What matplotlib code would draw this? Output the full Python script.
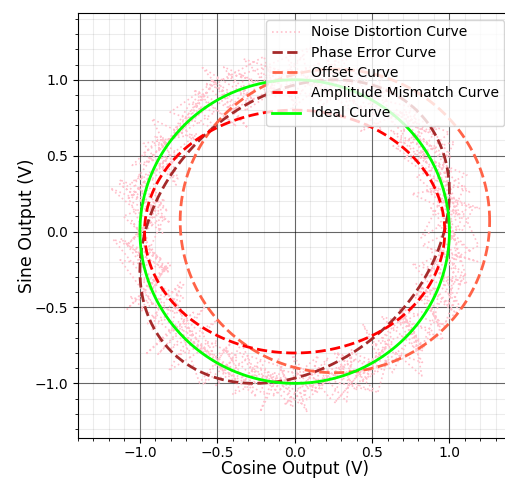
import numpy as np
import matplotlib
matplotlib.use('Agg')
import matplotlib.pyplot as plt
from matplotlib.ticker import AutoMinorLocator

# curve parameters
n_points = 200
amp_x, amp_y = 0.97, 0.80          # amplitude mismatch
offset_x, offset_y = 0.26, 0.07    # offset curve
phase_deg = 15                     # phase error

noise_x = [
    0.05, -0.12, 0.08, 0.15, -0.03, -0.18, 0.11, 0.02, -0.07, 0.21,
    -0.14, 0.06, -0.01, 0.09, -0.22, 0.13, 0.04, -0.09, 0.17, -0.05,
    0.10, -0.16, 0.01, 0.07, -0.11, 0.19, -0.04, 0.12, -0.20, 0.03,
    0.08, -0.06, 0.14, -0.13, 0.00, 0.16, -0.08, 0.05, -0.19, 0.11,
    -0.02, 0.20, -0.10, 0.06, -0.15, 0.09, 0.02, -0.12, 0.18, -0.07,
    0.13, -0.03, 0.07, -0.21, 0.04, 0.15, -0.09, 0.01, 0.10, -0.17,
    0.06, -0.11, 0.22, -0.05, 0.03, -0.14, 0.12, -0.01, 0.08, -0.18,
    0.17, -0.06, 0.02, 0.11, -0.13, 0.05, -0.20, 0.09, 0.14, -0.04,
    -0.10, 0.07, -0.16, 0.19, 0.00, -0.08, 0.13, -0.12, 0.04, 0.10,
    -0.03, 0.16, -0.15, 0.06, -0.07, 0.21, -0.11, 0.01, 0.09, -0.19,
    0.12, -0.02, 0.05, -0.14, 0.18, -0.09, 0.03, 0.11, -0.06, 0.15,
    -0.17, 0.08, -0.01, 0.13, -0.10, 0.04, -0.22, 0.07, 0.16, -0.05,
    0.02, -0.13, 0.20, -0.08, 0.10, -0.04, 0.14, -0.18, 0.06, 0.01,
    -0.12, 0.17, -0.06, 0.09, -0.15, 0.03, 0.12, -0.10, 0.19, -0.02,
    0.07, -0.20, 0.11, -0.03, 0.05, -0.16, 0.15, 0.00, -0.09, 0.13,
    -0.07, 0.04, 0.18, -0.14, 0.08, -0.01, 0.10, -0.19, 0.06, 0.16,
    -0.11, 0.02, -0.05, 0.21, -0.13, 0.09, -0.04, 0.12, -0.17, 0.03,
    0.14, -0.08, 0.07, -0.12, 0.01, 0.17, -0.15, 0.05, 0.11, -0.06,
    -0.18, 0.10, 0.03, -0.09, 0.15, -0.03, 0.08, -0.21, 0.13, -0.02,
    0.06, -0.14, 0.19, -0.07, 0.04, -0.11, 0.16, -0.05, 0.09, 0.00,
]
noise_y = [
    -0.08, 0.14, -0.03, 0.10, 0.19, -0.12, 0.05, -0.17, 0.08, 0.01,
    0.12, -0.06, 0.20, -0.10, 0.03, 0.07, -0.15, 0.11, -0.02, 0.16,
    -0.19, 0.04, 0.09, -0.07, 0.13, -0.01, -0.14, 0.18, 0.06, -0.11,
    0.02, 0.15, -0.09, 0.07, 0.21, -0.04, 0.10, -0.16, 0.00, 0.12,
    -0.13, 0.05, 0.17, -0.08, 0.03, -0.20, 0.14, 0.08, -0.05, 0.11,
    -0.02, -0.18, 0.09, 0.15, -0.10, 0.04, 0.19, -0.06, 0.01, -0.14,
    0.13, 0.06, -0.12, 0.02, 0.16, -0.09, 0.10, -0.03, -0.21, 0.07,
    0.18, -0.05, 0.12, -0.15, 0.00, 0.09, -0.11, 0.14, 0.04, -0.07,
    0.20, -0.16, 0.06, 0.11, -0.01, -0.13, 0.17, 0.03, -0.08, 0.15,
    -0.04, 0.08, -0.19, 0.12, 0.05, -0.10, 0.02, 0.16, -0.12, 0.07,
    -0.03, 0.13, -0.17, 0.09, 0.22, -0.06, 0.01, -0.14, 0.10, 0.04,
    0.15, -0.09, 0.06, -0.02, -0.18, 0.11, 0.03, 0.19, -0.07, 0.08,
    -0.12, 0.14, 0.00, -0.15, 0.07, 0.12, -0.05, 0.17, -0.10, 0.02,
    0.09, -0.20, 0.13, 0.05, -0.08, 0.16, -0.03, 0.10, -0.13, 0.06,
    0.18, -0.01, -0.11, 0.08, 0.14, -0.16, 0.04, 0.11, -0.06, 0.20,
    -0.09, 0.03, 0.15, -0.14, 0.07, -0.02, 0.12, -0.18, 0.09, 0.01,
    0.16, -0.07, -0.12, 0.10, 0.05, -0.21, 0.13, 0.02, -0.04, 0.17,
    -0.10, 0.08, 0.19, -0.08, 0.00, 0.11, -0.15, 0.06, 0.14, -0.03,
    0.04, -0.17, 0.12, 0.07, -0.11, 0.15, -0.05, 0.09, -0.19, 0.13,
    0.01, 0.18, -0.06, 0.10, -0.13, 0.03, 0.16, -0.09, 0.08, -0.02,
]

# angles for the curves
theta = np.linspace(0, 2 * np.pi, n_points)
phi = np.deg2rad(phase_deg)

ideal_x, ideal_y = np.cos(theta), np.sin(theta)
phase_x, phase_y = np.cos(theta), np.sin(theta + phi)
off_x, off_y = np.cos(theta) + offset_x, np.sin(theta) + offset_y
ampm_x, ampm_y = amp_x * np.cos(theta), amp_y * np.sin(theta)

# noisy curve: twice as many points, the noise lists used in both orders
theta_n = np.linspace(0, 2 * np.pi, 2 * n_points)
nx = np.array(noise_x + noise_y[::-1])
ny = np.array(noise_y + noise_x[::-1])
noise_cx = np.cos(theta_n) + nx
noise_cy = np.sin(theta_n) + ny

fig = plt.figure(figsize=(5.06, 4.79), dpi=100)
ax = fig.add_axes([0.1542, 0.0856, 0.8563, 0.8873])

ax.plot(noise_cx, noise_cy, linestyle=':', color='pink', linewidth=1.2, label='Noise Distortion Curve')
ax.plot(phase_x, phase_y, linestyle='--', color='brown', linewidth=2, label='Phase Error Curve')
ax.plot(off_x, off_y, linestyle='--', color='tomato', linewidth=2, label='Offset Curve')
ax.plot(ampm_x, ampm_y, linestyle='--', color='red', linewidth=2, label='Amplitude Mismatch Curve')
ax.plot(ideal_x, ideal_y, linestyle='-', color='lime', linewidth=2, label='Ideal Curve')

ax.set_xlim(-1.4, 1.4)
ax.set_ylim(-1.36, 1.44)
ax.xaxis.set_minor_locator(AutoMinorLocator(5))
ax.yaxis.set_minor_locator(AutoMinorLocator(5))
ax.tick_params(axis='x', pad=2)
ax.grid(which='major', color='black', alpha=0.6, linewidth=0.8)
ax.grid(which='minor', color='gray', alpha=0.15, linewidth=0.8)

ax.set_xlabel('Cosine Output (V)', fontsize=12, labelpad=0)
ax.set_ylabel('Sine Output (V)', fontsize=12.5, labelpad=-1)
ax.legend(loc='upper right', fontsize=10, labelspacing=0.45)

fig.savefig('out.png', dpi=100)
